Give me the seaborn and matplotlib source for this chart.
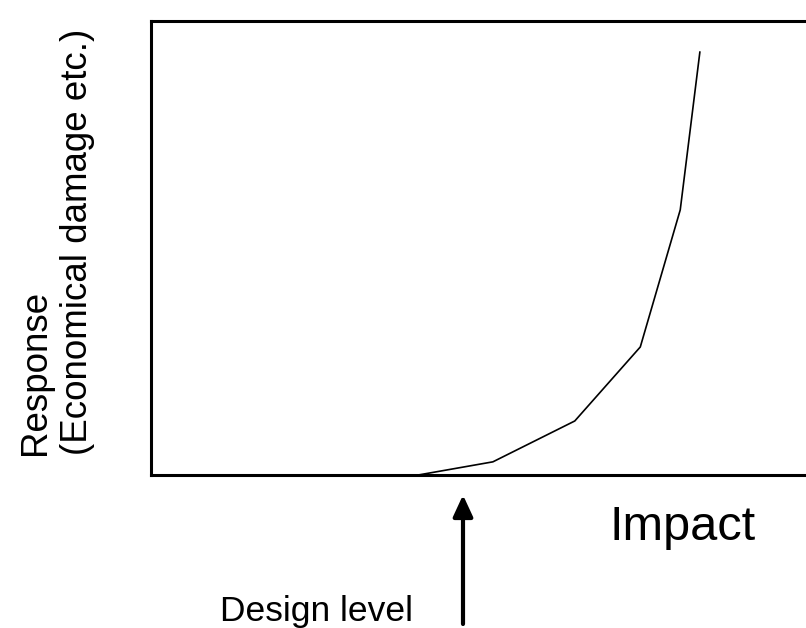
import matplotlib
matplotlib.use("Agg")
import matplotlib.pyplot as plt
import seaborn as sns
import pandas as pd

# Data (arbitrary units)
impact = [4.08, 5.22, 6.47, 7.47, 8.08, 8.38]
response = [0.0, 0.29, 1.19, 2.82, 5.84, 9.32]

x_label = "Impact"
y_label_1 = "Response"
y_label_2 = "(Economical damage etc.)"
design_label = "Design level"

sns.set_style("white")
plt.rcParams["font.family"] = ["Liberation Sans", "DejaVu Sans"]
plt.rcParams["text.color"] = "black"

W, H = 806, 628
fig = plt.figure(figsize=(W / 100, H / 100), dpi=100)
ax = fig.add_axes([151 / W, (H - 475) / H, (W - 151) / W, (475 - 21) / H])

df = pd.DataFrame({"impact": impact, "response": response})
sns.lineplot(data=df, x="impact", y="response", ax=ax, color="black", lw=1.2)

ax.set_xlim(0, 10)
ax.set_ylim(0, 10)
ax.set_xticks([])
ax.set_yticks([])
ax.set_xlabel("")
ax.set_ylabel("")
for side in ["left", "top", "bottom"]:
    ax.spines[side].set_visible(True)
    ax.spines[side].set_color("black")
    ax.spines[side].set_linewidth(2.2)
ax.spines["right"].set_visible(False)

# Texts in figure pixel coordinates
fig.text(683, H - 540, x_label, fontsize=35, ha="center", va="baseline",
         color="black", transform=None)
fig.text(316, H - 621, design_label, fontsize=25.5, ha="center", va="baseline",
         color="black", transform=None)
fig.text(45, H - 455, y_label_1, fontsize=26.5, rotation=90,
         rotation_mode="anchor", ha="left", va="baseline", color="black",
         transform=None)
fig.text(87, H - 455, y_label_2, fontsize=26.5, rotation=90,
         rotation_mode="anchor", ha="left", va="baseline", color="black",
         transform=None)

# Design-level arrow
ax.annotate("", xy=(463, H - 495), xytext=(463, H - 624),
            xycoords="figure pixels", textcoords="figure pixels",
            annotation_clip=False,
            arrowprops=dict(arrowstyle="-|>,head_length=0.65,head_width=0.3",
                            mutation_scale=20, lw=3, color="black",
                            shrinkA=0, shrinkB=0))

fig.savefig("out.png", dpi=100)
